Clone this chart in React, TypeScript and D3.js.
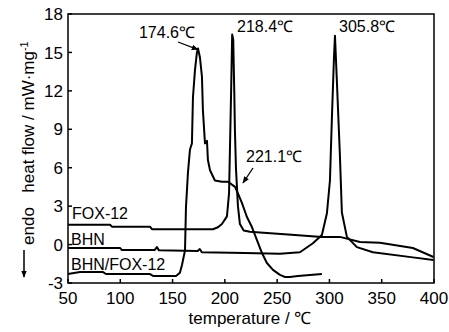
import React from "react";
import * as d3 from "d3";

const xTicks = [50, 100, 150, 200, 250, 300, 350, 400];
const yTicks = [-3, 0, 3, 6, 9, 12, 15, 18];

// FOX-12
const foxT = [50, 90.2, 92, 128.4, 130.3, 188.6, 193.4, 197.2, 202, 204, 205, 206, 207, 208, 209, 209.6, 210.6, 212.5, 214.4, 218, 224, 233.6, 267, 292.8, 310, 329.2, 348.3, 379.8, 399.5];
const foxV = [1.55, 1.55, 1.4, 1.4, 1.2, 1.2, 1.35, 1.6, 2.2, 4, 8, 12, 16.4, 16.0, 12, 9, 6, 3, 1.6, 1.1, 1.0, 0.95, 0.75, 0.6, 0.6, 0.2, 0.15, -0.27, -0.97];

// BHN
const bhnT = [50, 99.7, 101.6, 133, 135, 137, 174, 176, 178, 219, 252.7, 271.8, 284.2, 292.8, 297.6, 300.5, 302.4, 304.3, 305.3, 307, 310, 311.9, 316.7, 326.3, 341.6, 379.8, 399.5];
const bhnV = [-0.27, -0.27, -0.42, -0.42, -0.2, -0.45, -0.5, -0.35, -0.6, -0.65, -0.72, -0.6, 0.1, 0.75, 2.45, 5, 10, 14.5, 16.3, 13, 7, 2.5, 0.6, -0.2, -0.6, -1.0, -1.2];

// BHN/FOX-12
const mixT = [50, 61.5, 83.5, 86.3, 128.4, 131.3, 153.3, 157, 159, 161.9, 162.8, 164.7, 166.6, 168.5, 169.5, 171.4, 173.3, 174.3, 176.2, 178.1, 179, 181, 182.9, 183.8, 185.8, 190.5, 197.2, 203, 209.7, 212.5, 216.3, 221.1, 225.9, 230.7, 235.5, 240.2, 246, 252.7, 257.5, 262.2, 269.9, 292.8];
const mixV = [-2.3, -2.15, -2.15, -2.3, -2.3, -2.45, -2.45, -2.2, -1.6, -0.45, 2.9, 5.6, 7.4, 7.9, 11.5, 13.6, 15.0, 15.3, 14.6, 13.1, 10.5, 7.9, 8.1, 6.6, 5.8, 5.0, 4.9, 4.9, 4.5, 4.0, 3.25, 2.15, 1.37, 0.35, -0.66, -1.44, -1.98, -2.37, -2.53, -2.53, -2.45, -2.3];

const seriesNames = ["FOX-12", "BHN", "BHN/FOX-12"];
const peakLabels = ["174.6℃", "218.4℃", "305.8℃", "221.1℃"];

const FONT = "'Liberation Sans', Arial, Helvetica, sans-serif";

export default function App() {
  const W = 449, H = 332;
  const x = d3.scaleLinear().domain([50, 400]).range([68, 434]);
  const y = d3.scaleLinear().domain([-3, 18]).range([283, 14]);
  const line = d3.line<[number, number]>().x((d) => x(d[0])).y((d) => y(d[1]));
  const zip = (a: number[], b: number[]) => a.map((t, i) => [t, b[i]] as [number, number]);
  const series = [zip(foxT, foxV), zip(bhnT, bhnV), zip(mixT, mixV)];

  return (
    <svg width={W} height={H} style={{ position: "absolute", left: 0, top: 0, background: "#fff" }} fontFamily={FONT}>
      <defs>
        <marker id="ah" viewBox="0 0 10 10" refX="9" refY="5" markerWidth="7" markerHeight="7" orient="auto-start-reverse" markerUnits="userSpaceOnUse">
          <path d="M0,1 L10,5 L0,9 Z" fill="#000" />
        </marker>
      </defs>
      <rect x={0} y={0} width={W} height={H} fill="#fff" />
      {series.map((s, i) => (
        <path key={i} d={line(s) || ""} fill="none" stroke="#000" strokeWidth={2} strokeLinejoin="round" />
      ))}
      <rect x={x(50)} y={y(18)} width={x(400) - x(50)} height={y(-3) - y(18)} fill="none" stroke="#000" strokeWidth={1.5} />
      {yTicks.map((t) => (
        <g key={"y" + t}>
          <line x1={x(50)} x2={x(50) + 4} y1={y(t)} y2={y(t)} stroke="#000" strokeWidth={1.5} />
          <text x={x(50) - 5} y={y(t)} dy="0.36em" textAnchor="end" fontSize={17}>{t}</text>
        </g>
      ))}
      {xTicks.map((t) => (
        <g key={"x" + t}>
          <line x1={x(t)} x2={x(t)} y1={y(-3)} y2={y(-3) - 4} stroke="#000" strokeWidth={1.5} />
          <text x={x(t)} y={304} textAnchor="middle" fontSize={17}>{t}</text>
        </g>
      ))}
      <text x={250} y={324} textAnchor="middle" fontSize={17}>temperature / ℃</text>
      <text transform="translate(34,117) rotate(-90)" textAnchor="middle" fontSize={17}>
        heat flow / mW·mg<tspan dy={-6} fontSize={11}>-1</tspan>
      </text>
      <text transform="translate(34,226) rotate(-90)" textAnchor="middle" fontSize={17}>endo</text>
      <line x1={24} x2={24} y1={250} y2={277} stroke="#000" strokeWidth={1.5} markerEnd="url(#ah)" />

      <text x={72} y={219} fontSize={16}>{seriesNames[0]}</text>
      <text x={71} y={245} fontSize={16}>{seriesNames[1]}</text>
      <text x={71} y={270} fontSize={16}>{seriesNames[2]}</text>

      <text x={167} y={38} textAnchor="middle" fontSize={16}>{peakLabels[0]}</text>
      <line x1={178} y1={42} x2={x(174.3)} y2={y(15.3) + 1} stroke="#000" strokeWidth={1.3} markerEnd="url(#ah)" />
      <text x={237} y={32} fontSize={16}>{peakLabels[1]}</text>
      <text x={339} y={32} fontSize={16}>{peakLabels[2]}</text>
      <text x={246} y={162} fontSize={16}>{peakLabels[3]}</text>
      <line x1={253} y1={168} x2={243} y2={183} stroke="#000" strokeWidth={1.3} markerEnd="url(#ah)" />
    </svg>
  );
}
